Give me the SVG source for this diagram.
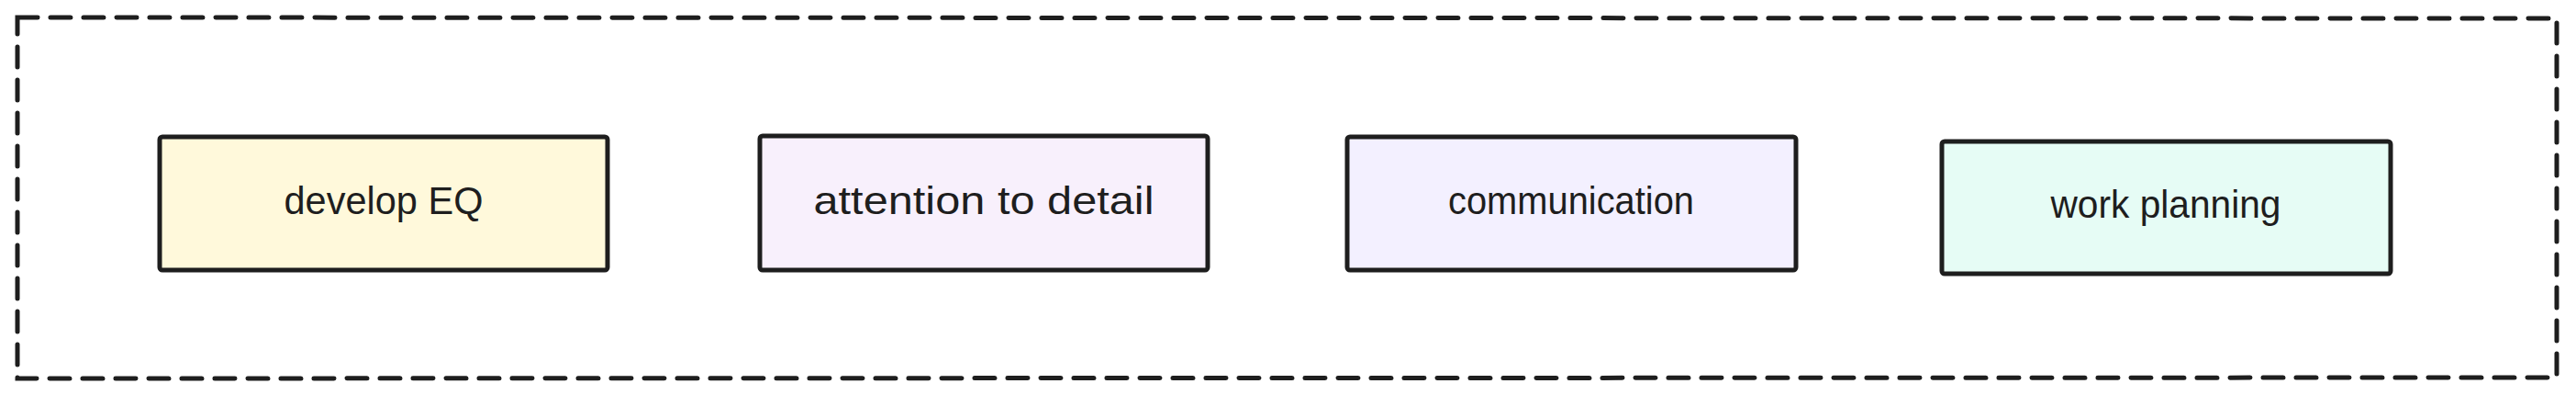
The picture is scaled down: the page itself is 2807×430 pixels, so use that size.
<svg xmlns="http://www.w3.org/2000/svg" width="2807" height="430" viewBox="0 0 2807 430">
<style>
.frame{fill:none;stroke:#1e1e1e;stroke-width:5;stroke-dasharray:22 14;stroke-linecap:round}
.box{stroke:#1e1e1e;stroke-width:5;stroke-linejoin:round}
.lbl{font-family:"Liberation Sans",Arial,sans-serif;font-size:42px;fill:#1e1e1e;text-anchor:middle}
</style>
<rect width="2807" height="430" fill="#ffffff"/>
<g id="group-frame">
<path class="frame" d="M19 19 L2786 20 L2786 411 L19 412 Z"/>
</g>
<g id="node-develop-eq">
<rect class="box" x="174" y="149" width="488" height="145" rx="3" fill="#fff9db"/>
<text class="lbl" x="418" y="233" textLength="217" lengthAdjust="spacingAndGlyphs">develop EQ</text>
</g>
<g id="node-attention">
<rect class="box" x="828" y="148" width="488" height="146" rx="3" fill="#f8f0fc"/>
<text class="lbl" x="1072" y="233" textLength="371" lengthAdjust="spacingAndGlyphs">attention to detail</text>
</g>
<g id="node-communication">
<rect class="box" x="1468" y="149" width="489" height="145" rx="3" fill="#f3f0ff"/>
<text class="lbl" x="1712" y="233" textLength="268" lengthAdjust="spacingAndGlyphs">communication</text>
</g>
<g id="node-work-planning">
<rect class="box" x="2116" y="154" width="489" height="144" rx="3" fill="#e6fcf5"/>
<text class="lbl" x="2360" y="237" textLength="251" lengthAdjust="spacingAndGlyphs">work planning</text>
</g>
<g id="connectors"></g>
</svg>
